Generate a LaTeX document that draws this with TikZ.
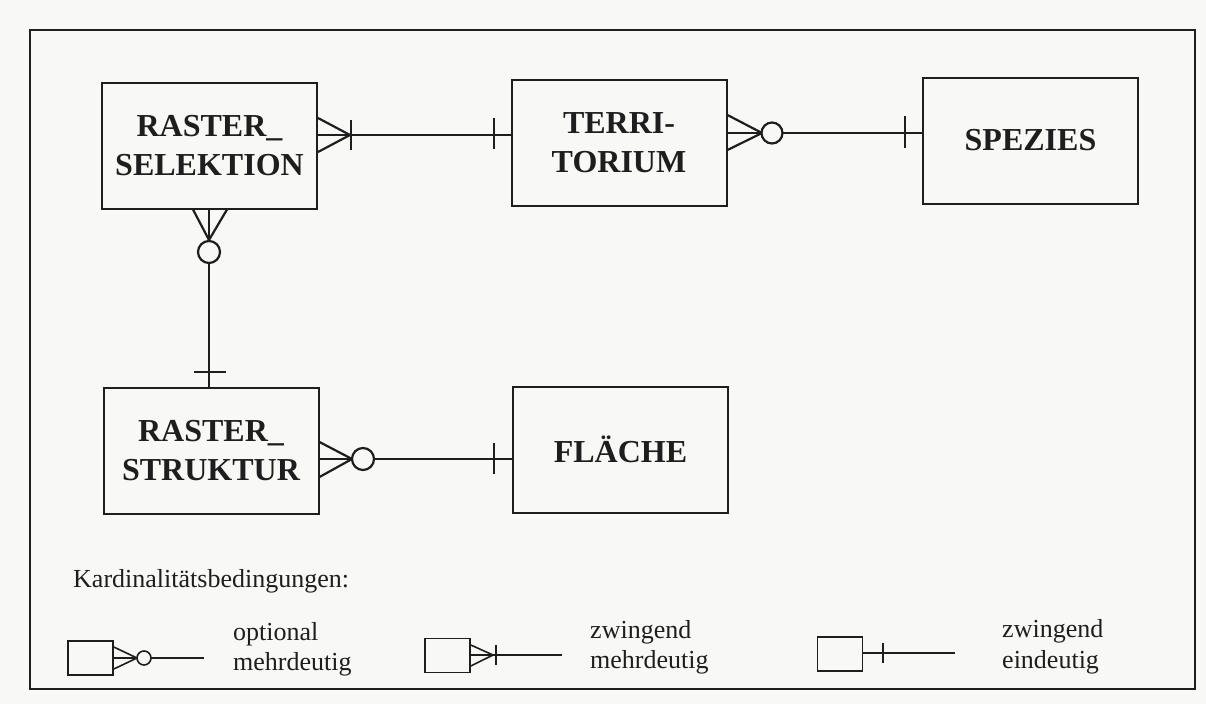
\documentclass[tikz,border=0pt]{standalone}
\usepackage{fontspec}
\setmainfont{Liberation Serif}
\definecolor{bg}{HTML}{F8F8F6}
\definecolor{ink}{HTML}{1E1E1E}
\begin{document}
\begin{tikzpicture}[x=1pt,y=-1pt,
  ent/.style={draw=ink, text=ink, line width=2pt, inner sep=0pt, align=center,
    minimum width=215pt, minimum height=126pt,
    font=\fontsize{32}{39}\selectfont\bfseries},
  conn/.style={draw=ink, line width=2.2pt},
  ring/.style={draw=ink, line width=2.2pt, fill=bg},
  lbox/.style={draw=ink, line width=1.6pt, inner sep=0pt, minimum width=45pt, minimum height=34pt},
  leg/.style={draw=ink, line width=1.6pt},
  lt/.style={text=ink, font=\fontsize{26}{30}\selectfont, anchor=base west, inner sep=0pt}]
\useasboundingbox (0,0) rectangle (1206,704);
\fill[bg] (0,0) rectangle (1206,704);
\draw[ink, line width=1.8pt] (30,30) rectangle (1195,689);

% entities
\node[ent] (rs)  at (209.5,145.5) {RASTER\_\\SELEKTION};
\node[ent] (t)   at (619,143)     {TERRI-\\TORIUM};
\node[ent] (s)   at (1030.5,140.5){SPEZIES};
\node[ent] (rst) at (211,451)     {RASTER\_\\STRUKTUR};
\node[ent] (f)   at (620.5,449.5) {FLÄCHE};

% RASTER_SELEKTION -- TERRITORIUM (zwingend mehrdeutig / zwingend eindeutig)
\coordinate (c1) at (0,135);
\draw[conn] (rs.east |- c1) -- (t.west |- c1);
\draw[conn] (rs.east |- 0,118) -- (350,135) -- (rs.east |- 0,152);
\draw[conn] (351,120) -- (351,150);
\draw[conn] (494,118) -- (494,149);

% TERRITORIUM -- SPEZIES (optional mehrdeutig / zwingend eindeutig)
\coordinate (c2) at (0,133);
\draw[conn] (t.east |- c2) -- (s.west |- c2);
\draw[conn] (t.east |- 0,115) -- (762,133) -- (t.east |- 0,150);
\draw[ring] (772,133) circle[radius=10.5];
\draw[conn] (905,116) -- (905,148);

% RASTER_SELEKTION -- RASTER_STRUKTUR
\coordinate (c3) at (209,0);
\draw[conn] (rs.south -| c3) -- (rst.north -| c3);
\draw[conn] (193,0 |- rs.south) -- (209,240) -- (227,0 |- rs.south);
\draw[ring] (209,252) circle[radius=11];
\draw[conn] (194,372) -- (226,372);

% RASTER_STRUKTUR -- FLAECHE
\coordinate (c4) at (0,459);
\draw[conn] (rst.east |- c4) -- (f.west |- c4);
\draw[conn] (rst.east |- 0,442) -- (352,459) -- (rst.east |- 0,477);
\draw[ring] (363,459) circle[radius=11];
\draw[conn] (494,443) -- (494,474);

% legend
\node[lt] (kb) at (73,587) {Kardinalitätsbedingungen:};

\node[lbox] (l1) at (90.5,658) {};
\coordinate (e1) at (204,658);
\draw[leg] (l1.east) -- (e1);
\draw[leg] (l1.east |- 0,647) -- (137,658) -- (l1.east |- 0,669);
\draw[leg, fill=bg] (144,658) circle[radius=7];
\node[lt] (o1) at (233,640) {optional};
\node[lt] (o2) at (233,670) {mehrdeutig};

\node[lbox] (l2) at (447.5,655.5) {};
\coordinate (e2) at (562,655);
\draw[leg] (l2.east |- e2) -- (e2);
\draw[leg] (l2.east |- 0,645) -- (493,655) -- (l2.east |- 0,666);
\draw[leg] (496,645) -- (496,665);
\node[lt] (z1) at (590,638) {zwingend};
\node[lt] (z2) at (590,668) {mehrdeutig};

\node[lbox] (l3) at (840,654) {};
\coordinate (e3) at (955,653);
\draw[leg] (l3.east |- e3) -- (e3);
\draw[leg] (883,643) -- (883,663);
\node[lt] (y1) at (1002,637) {zwingend};
\node[lt] (y2) at (1002,668) {eindeutig};
\end{tikzpicture}
\end{document}
